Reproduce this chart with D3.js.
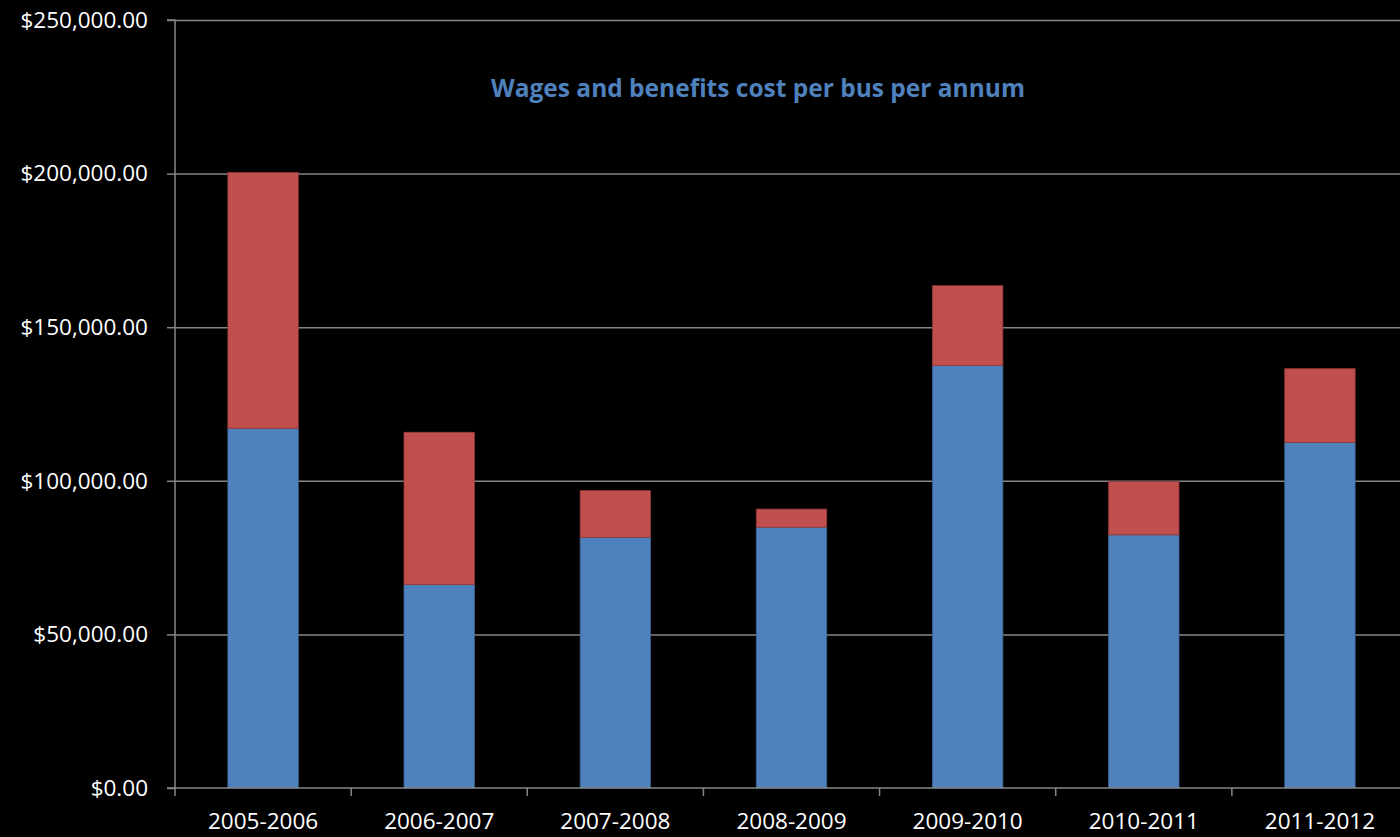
<!DOCTYPE html>
<html><head><meta charset="utf-8">
<script src="https://cdn.jsdelivr.net/npm/d3@7"></script>
<style>html,body{margin:0;padding:0;background:#000;overflow:hidden}</style>
</head><body><svg id="c" width="1400" height="837"></svg>
<script>
const categories = ["2005-2006","2006-2007","2007-2008","2008-2009","2009-2010","2010-2011","2011-2012"];
const wages = [117100, 66200, 81600, 84900, 137500, 82400, 112500];
const benefits = [83300, 49600, 15200, 5900, 26000, 17400, 24000];
const yTicks = [0, 50000, 100000, 150000, 200000, 250000];
const title = "Wages and benefits cost per bus per annum";

const svg = d3.select("#c");
const W = 1400, H = 837;
const plotL = 175, plotR = 1408, plotT = 20, plotB = 788;
const x = d3.scaleBand().domain(categories).range([plotL, plotR]).paddingInner(0.6).paddingOuter(0.3);
const y = d3.scaleLinear().domain([0, 250000]).range([plotB, plotT]);
const font = "'Open Sans', 'Noto Sans', sans-serif";
const grid = "#868686";

svg.append("rect").attr("width", W).attr("height", H).attr("fill", "#000");

// gridlines
svg.append("g").selectAll("line").data(yTicks.filter(d => d > 0)).join("line")
  .attr("x1", plotL).attr("x2", W).attr("y1", d => y(d) + 0.5).attr("y2", d => y(d) + 0.5)
  .attr("stroke", grid).attr("stroke-width", 1.5);

// stacked data
const rows = categories.map((c, i) => ({cat: c, wages: wages[i], benefits: benefits[i]}));
const stack = d3.stack().keys(["wages", "benefits"])(rows);
const fills = {wages: "#4F81BD", benefits: "#C0504D"};
const strokes = {wages: "#3B6595", benefits: "#953735"};
svg.append("g").selectAll("g").data(stack).join("g")
  .attr("fill", d => fills[d.key]).attr("stroke", d => strokes[d.key]).attr("stroke-width", 0.8)
  .selectAll("rect").data(d => d).join("rect")
  .attr("x", d => x(d.data.cat)).attr("width", x.bandwidth())
  .attr("y", d => y(d[1])).attr("height", d => y(d[0]) - y(d[1]));

// y axis
const yAxis = d3.axisLeft(y).tickValues(yTicks).tickSize(8).tickPadding(19)
  .tickFormat(d => "$" + d3.format(",.2f")(d));
const gy = svg.append("g").attr("transform", `translate(${plotL},0)`).call(yAxis);
gy.select(".domain").attr("stroke", grid).attr("stroke-width", 1.5).attr("d", `M-8,${y(250000)}H0V${y(0)}H-8`);
gy.selectAll(".tick line").attr("stroke", grid).attr("stroke-width", 1.5);
gy.selectAll("text").attr("fill", "#fff").attr("font-family", font).attr("font-size", 22.5);

// x axis
const xAxis = d3.axisBottom(x).tickSize(0).tickPadding(25);
const gx = svg.append("g").attr("transform", `translate(0,${y(0)})`).call(xAxis);
gx.select(".domain").attr("stroke", grid).attr("stroke-width", 1.5).attr("d", `M${plotL},0H${W}`);
gx.selectAll("text").attr("fill", "#fff").attr("font-family", font).attr("font-size", 22.5);
// category boundary ticks
const bounds = categories.map((c, i) => plotL + i * x.step());
svg.append("g").selectAll("line").data(bounds).join("line")
  .attr("x1", d => d).attr("x2", d => d).attr("y1", y(0)).attr("y2", y(0) + 8)
  .attr("stroke", grid).attr("stroke-width", 1.5);

// title
svg.append("text").attr("x", 758).attr("y", 97).attr("text-anchor", "middle")
  .attr("fill", "#4F81BD").attr("font-family", font).attr("font-weight", "bold").attr("font-size", 24.5)
  .text(title);
</script></body></html>
